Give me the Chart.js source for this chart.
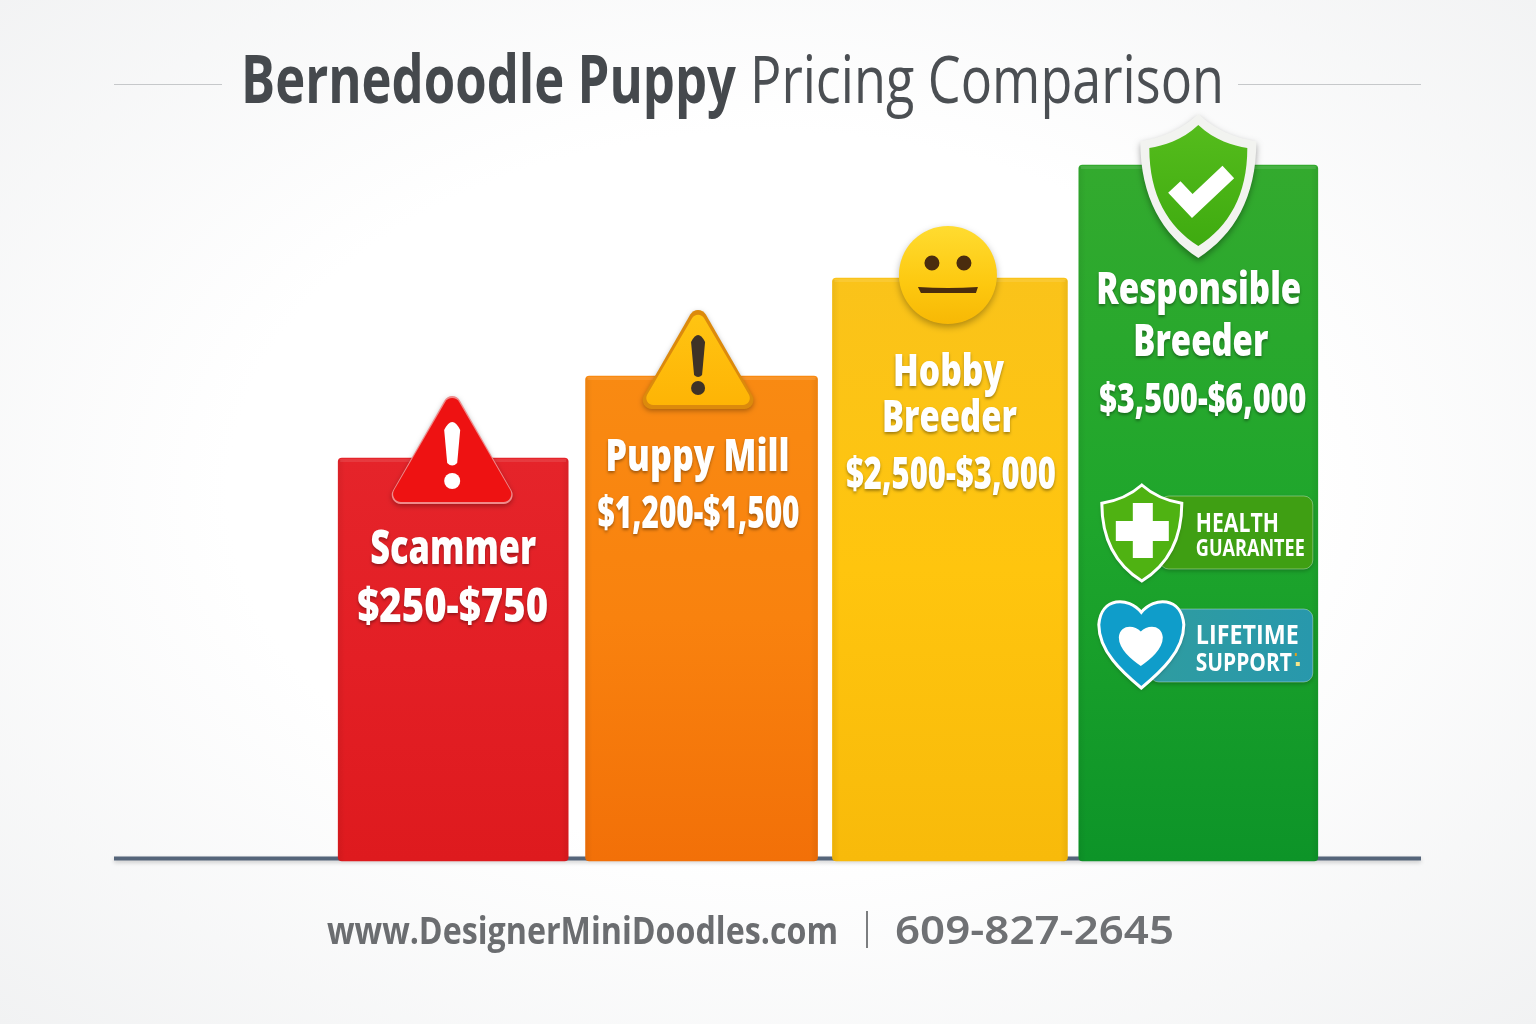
<!DOCTYPE html>
<html>
<head>
<meta charset="utf-8">
<title>Bernedoodle Puppy Pricing Comparison</title>
<script src="https://cdn.jsdelivr.net/npm/chart.js@4"></script>
<style>
    html, body { margin: 0; padding: 0; }
    body { width: 1536px; height: 1024px; overflow: hidden; background: radial-gradient(ellipse 78% 78% at 50% 48%, #ffffff 45%, #eff0f1 100%); }
    canvas { display: block; }
</style>
</head>
<body>
<canvas id="priceChart" width="1536" height="1024"></canvas>
<script>
const categories = ["Scammer", "Puppy Mill", "Hobby Breeder", "Responsible Breeder"];
const priceRanges = ["$250-$750", "$1,200-$1,500", "$2,500-$3,000", "$3,500-$6,000"];
// the bars are not drawn to the price scale, these are heights read off the picture
const barHeights = [403, 485, 583, 696];

const barWidths = [230, 232, 235, 239];
const barColors = [
    ["#e5242a", "#e31f25", "#de1a1e"],
    ["#f98a12", "#f9820e", "#f27008"],
    ["#fac31a", "#ffc50e", "#f8ba0a"],
    ["#33aa2e", "#1fa62c", "#0d9428"],
];

const labelFont = "'Open Sans'";

// left edge, right edge, baseline and font size of each text line, measured from the bar's top centre
const textLines = [
    [["Scammer", -83, 83, 106, 47], [priceRanges[0], -96, 95, 164, 48]],
    [["Puppy Mill", -96, 88, 95, 45], [priceRanges[1], -104, 98, 152, 44]],
    [["Hobby", -57, 54, 108, 45], ["Breeder", -68, 67, 154, 45], [priceRanges[2], -104, 106, 211, 44]],
    [["Responsible", -102, 103, 139, 44], ["Breeder", -65, 70, 191, 44], [priceRanges[3], -99, 108, 248, 43]],
];

function fitText(ctx, str, left, right, baseline, font, color) {
    ctx.save();
    ctx.font = font;
    ctx.fillStyle = color;
    ctx.textAlign = "left";
    ctx.textBaseline = "alphabetic";
    const natural = ctx.measureText(str).width;
    ctx.translate(left, baseline);
    ctx.scale((right - left) / natural, 1);
    ctx.fillText(str, 0, 0);
    ctx.restore();
}

function softShadow(ctx, alpha, blur, dy) {
    ctx.shadowColor = "rgba(0,0,0," + alpha + ")";
    ctx.shadowBlur = blur;
    ctx.shadowOffsetX = 0;
    ctx.shadowOffsetY = dy;
}

function trianglePath(ctx, cx, top, halfWidth, bottom, radius) {
    ctx.beginPath();
    ctx.moveTo(cx, bottom);
    ctx.arcTo(cx + halfWidth, bottom, cx, top, radius);
    ctx.arcTo(cx, top, cx - halfWidth, bottom, radius);
    ctx.arcTo(cx - halfWidth, bottom, cx, bottom, radius);
    ctx.closePath();
}

function shieldPath(ctx, cx, top, halfWidth, bottom) {
    const h = bottom - top;
    ctx.beginPath();
    ctx.moveTo(cx, top);
    ctx.bezierCurveTo(cx + halfWidth * 0.35, top + h * 0.13, cx + halfWidth * 0.7, top + h * 0.17, cx + halfWidth, top + h * 0.19);
    ctx.bezierCurveTo(cx + halfWidth, top + h * 0.58, cx + halfWidth * 0.62, top + h * 0.84, cx, bottom);
    ctx.bezierCurveTo(cx - halfWidth * 0.62, top + h * 0.84, cx - halfWidth, top + h * 0.58, cx - halfWidth, top + h * 0.19);
    ctx.bezierCurveTo(cx - halfWidth * 0.7, top + h * 0.17, cx - halfWidth * 0.35, top + h * 0.13, cx, top);
    ctx.closePath();
}

function heartPath(ctx, cx, top, halfWidth, bottom) {
    const h = bottom - top;
    ctx.beginPath();
    ctx.moveTo(cx, top + h * 0.14);
    ctx.bezierCurveTo(cx + halfWidth * 0.3, top - h * 0.04, cx + halfWidth * 0.95, top - h * 0.04, cx + halfWidth, top + h * 0.28);
    ctx.bezierCurveTo(cx + halfWidth, top + h * 0.58, cx + halfWidth * 0.45, top + h * 0.82, cx, bottom);
    ctx.bezierCurveTo(cx - halfWidth * 0.45, top + h * 0.82, cx - halfWidth, top + h * 0.58, cx - halfWidth, top + h * 0.28);
    ctx.bezierCurveTo(cx - halfWidth * 0.95, top - h * 0.04, cx - halfWidth * 0.3, top - h * 0.04, cx, top + h * 0.14);
    ctx.closePath();
}

function drawScammerIcon(ctx, cx, top) {
    ctx.save();
    softShadow(ctx, 0.3, 5, 2);
    trianglePath(ctx, cx, top - 71, 67, top + 46, 9);
    ctx.fillStyle = "#f08a8a";
    ctx.fill();
    ctx.restore();
    trianglePath(ctx, cx, top - 68, 65, top + 44, 8);
    ctx.fillStyle = "#ee1212";
    ctx.fill();
    ctx.fillStyle = "#ffffff";
    ctx.beginPath();
    ctx.moveTo(cx - 8, top - 28);
    ctx.quadraticCurveTo(cx, top - 44, cx + 8, top - 28);
    ctx.lineTo(cx + 5, top + 5);
    ctx.quadraticCurveTo(cx, top + 10, cx - 5, top + 5);
    ctx.closePath();
    ctx.fill();
    ctx.beginPath();
    ctx.arc(cx, top + 23, 8, 0, Math.PI * 2);
    ctx.fill();
}

function drawMillIcon(ctx, cx, top) {
    ctx.save();
    softShadow(ctx, 0.3, 5, 2);
    trianglePath(ctx, cx, top - 75, 62, top + 33, 9);
    ctx.fillStyle = "#dc8a0c";
    ctx.fill();
    ctx.restore();
    const grad = ctx.createLinearGradient(0, top - 60, 0, top + 30);
    grad.addColorStop(0, "#ffc412");
    grad.addColorStop(1, "#feb405");
    trianglePath(ctx, cx, top - 68, 57, top + 29, 7);
    ctx.fillStyle = grad;
    ctx.fill();
    ctx.fillStyle = "#3e3227";
    ctx.beginPath();
    ctx.moveTo(cx - 7, top - 34);
    ctx.quadraticCurveTo(cx, top - 48, cx + 7, top - 34);
    ctx.lineTo(cx + 4, top - 1);
    ctx.quadraticCurveTo(cx, top + 3, cx - 4, top - 1);
    ctx.closePath();
    ctx.fill();
    ctx.beginPath();
    ctx.arc(cx, top + 12, 7, 0, Math.PI * 2);
    ctx.fill();
}

function drawHobbyIcon(ctx, cx, top) {
    const cy = top - 3;
    ctx.save();
    softShadow(ctx, 0.3, 7, 3);
    const grad = ctx.createLinearGradient(0, cy - 49, 0, cy + 49);
    grad.addColorStop(0, "#ffdc30");
    grad.addColorStop(0.6, "#fdc80f");
    grad.addColorStop(1, "#f7b805");
    ctx.fillStyle = grad;
    ctx.beginPath();
    ctx.arc(cx, cy, 49, 0, Math.PI * 2);
    ctx.fill();
    ctx.restore();
    ctx.fillStyle = "#4a2c0e";
    ctx.beginPath();
    ctx.arc(cx - 16, cy - 12, 7.5, 0, Math.PI * 2);
    ctx.arc(cx + 16, cy - 12, 7.5, 0, Math.PI * 2);
    ctx.fill();
    ctx.beginPath();
    ctx.moveTo(cx - 30, cy + 12);
    ctx.quadraticCurveTo(cx, cy + 14, cx + 30, cy + 12);
    ctx.lineTo(cx + 28, cy + 18);
    ctx.lineTo(cx - 27, cy + 18);
    ctx.closePath();
    ctx.fill();
}

function drawBadge(ctx, x, y, w, h, fill) {
    ctx.save();
    softShadow(ctx, 0.25, 4, 2);
    ctx.beginPath();
    ctx.roundRect(x, y, w, h, 9);
    ctx.fillStyle = fill;
    ctx.fill();
    ctx.restore();
    ctx.strokeStyle = "rgba(255,255,255,0.35)";
    ctx.lineWidth = 1;
    ctx.stroke();
}

function drawResponsibleIcons(ctx, cx, top) {
    // big shield over the bar top
    ctx.save();
    softShadow(ctx, 0.35, 6, 3);
    shieldPath(ctx, cx, top - 51, 58, top + 93);
    ctx.fillStyle = "#f2f3f0";
    ctx.fill();
    ctx.restore();
    const grad = ctx.createLinearGradient(0, top - 40, 0, top + 80);
    grad.addColorStop(0, "#55bc1c");
    grad.addColorStop(1, "#3fab10");
    shieldPath(ctx, cx, top - 40, 49, top + 81);
    ctx.fillStyle = grad;
    ctx.fill();
    ctx.strokeStyle = "#ffffff";
    ctx.lineWidth = 17;
    ctx.beginPath();
    ctx.moveTo(cx - 24, top + 22);
    ctx.lineTo(cx - 6, top + 41);
    ctx.lineTo(cx + 30, top + 7);
    ctx.stroke();

    // health badge
    drawBadge(ctx, cx - 38.5, top + 331, 153, 73, "#3f9f13");
    ctx.save();
    softShadow(ctx, 0.25, 4, 2);
    shieldPath(ctx, cx - 56.5, top + 320, 40, top + 416);
    ctx.fillStyle = "#4fb212";
    ctx.fill();
    ctx.restore();
    ctx.strokeStyle = "#ffffff";
    ctx.lineWidth = 3;
    ctx.stroke();
    ctx.fillStyle = "#ffffff";
    ctx.fillRect(cx - 65.5, top + 338, 20, 55);
    ctx.fillRect(cx - 82.5, top + 356, 53, 20);
    fitText(ctx, "HEALTH", cx - 2.5, cx + 80.5, top + 367, "bold 27px " + labelFont, "#ffffff");
    fitText(ctx, "GUARANTEE", cx - 2.5, cx + 106.5, top + 391, "bold 23px " + labelFont, "#ffffff");

    // support badge
    const teal = ctx.createLinearGradient(cx - 50, 0, cx + 113, 0);
    teal.addColorStop(0, "#2f9ca0");
    teal.addColorStop(1, "#2898ac");
    drawBadge(ctx, cx - 48.5, top + 444, 163, 73, teal);
    ctx.save();
    softShadow(ctx, 0.25, 4, 2);
    heartPath(ctx, cx - 57, top + 435, 42.5, top + 523);
    ctx.fillStyle = "#0f9dca";
    ctx.fill();
    ctx.restore();
    ctx.strokeStyle = "#ffffff";
    ctx.lineWidth = 3;
    ctx.stroke();
    heartPath(ctx, cx - 57.5, top + 461, 22, top + 501);
    ctx.fillStyle = "#ffffff";
    ctx.fill();
    fitText(ctx, "LIFETIME", cx - 2.5, cx + 100.5, top + 479, "bold 27px " + labelFont, "#ffffff");
    fitText(ctx, "SUPPORT", cx - 2.5, cx + 93.5, top + 506, "bold 25px " + labelFont, "#ffffff");
    ctx.fillStyle = "#e0a020";
    ctx.fillRect(cx + 96.5, top + 488, 2, 3);
    ctx.fillStyle = "#f6e68a";
    ctx.fillRect(cx + 97.5, top + 497, 4, 4);
}

const pagePlugin = {
    id: "pagePlugin",
    beforeDatasetsDraw(chart) {
        const ctx = chart.ctx;
        const base = chart.scales.y.getPixelForValue(0);
        // title
        fitText(ctx, "Bernedoodle Puppy", 241, 736, 103, "bold 66px " + labelFont, "#45494d");
        fitText(ctx, "Pricing Comparison", 750, 1224, 103, "66px " + labelFont, "#4b4f53");
        ctx.fillStyle = "#c6c8ca";
        ctx.fillRect(114, 84, 108, 1);
        ctx.fillRect(1238, 84, 183, 1);
        // baseline
        ctx.save();
        softShadow(ctx, 0.2, 4, 2);
        ctx.fillStyle = "#55657a";
        ctx.fillRect(114, base - 4.5, 1307, 4);
        ctx.restore();
        // footer
        fitText(ctx, "www.DesignerMiniDoodles.com", 327, 838, 944, "bold 38px " + labelFont, "#6b6d70");
        ctx.fillStyle = "#7c7e80";
        ctx.fillRect(866, 911, 2, 37);
        fitText(ctx, "609-827-2645", 895, 1174, 944, "600 40px 'Noto Sans'", "#6f7174");
    },
    afterDatasetsDraw(chart) {
        const ctx = chart.ctx;
        const iconDrawers = [drawScammerIcon, drawMillIcon, drawHobbyIcon, drawResponsibleIcons];
        const iconOffsets = [-1, -3.5, -2, 0];
        categories.forEach(function (name, i) {
            const bar = chart.getDatasetMeta(i).data[i];
            const left = bar.x - bar.width / 2;
            const h = bar.base - bar.y;
            // side shading and lit top edge
            const side = ctx.createLinearGradient(left, 0, left + bar.width, 0);
            side.addColorStop(0, "rgba(0,0,0,0.06)");
            side.addColorStop(0.03, "rgba(0,0,0,0)");
            side.addColorStop(0.97, "rgba(0,0,0,0)");
            side.addColorStop(1, "rgba(0,0,0,0.06)");
            ctx.fillStyle = side;
            ctx.fillRect(left, bar.y + 2, bar.width, h - 2);
            ctx.fillStyle = "rgba(255,255,255,0.10)";
            ctx.fillRect(left + 2, bar.y + 1, bar.width - 4, 3);

            iconDrawers[i](ctx, bar.x + iconOffsets[i], bar.y);

            ctx.save();
            softShadow(ctx, 0.35, 3, 2);
            textLines[i].forEach(function (line) {
                const font = "800 " + line[4] + "px " + labelFont;
                fitText(ctx, line[0], bar.x + line[1], bar.x + line[2], bar.y + line[3], font, "#ffffff");
            });
            ctx.restore();
        });
    },
};

new Chart(document.getElementById("priceChart"), {
    type: "bar",
    data: {
        labels: categories,
        // one dataset per bar so that each can have its own width
        datasets: categories.map(function (name, i) {
            return {
                label: name,
                data: categories.map(function (c, j) { return j === i ? barHeights[j] : null; }),
                barThickness: barWidths[i],
                grouped: false,
                borderRadius: 4,
                borderSkipped: false,
                clip: false,
                backgroundColor: function (context) {
                    const chart = context.chart;
                    if (!chart.chartArea) return barColors[i][1];
                    const y = chart.scales.y;
                    const grad = chart.ctx.createLinearGradient(0, y.getPixelForValue(barHeights[i]), 0, y.getPixelForValue(0));
                    grad.addColorStop(0, barColors[i][0]);
                    grad.addColorStop(0.5, barColors[i][1]);
                    grad.addColorStop(1, barColors[i][2]);
                    return grad;
                },
            };
        }),
    },
    options: {
        responsive: false,
        animation: false,
        layout: { padding: { left: 329, right: 213.5, top: 101, bottom: 163 } },
        scales: {
            x: { display: false, grid: { display: false } },
            y: { display: false, min: 0, max: 760, grid: { display: false } },
        },
        plugins: {
            legend: { display: false },
            title: { display: false },
            tooltip: { enabled: false },
        },
    },
    plugins: [pagePlugin],
});
</script>
</body>
</html>
